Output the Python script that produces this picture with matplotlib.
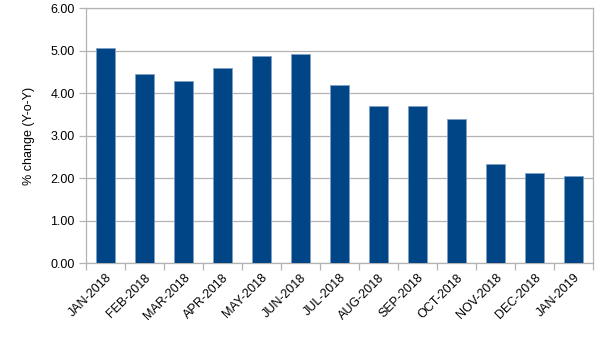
import matplotlib
matplotlib.use("Agg")
import matplotlib.pyplot as plt
import numpy as np

categories = ["JAN-2018", "FEB-2018", "MAR-2018", "APR-2018", "MAY-2018", "JUN-2018",
              "JUL-2018", "AUG-2018", "SEP-2018", "OCT-2018", "NOV-2018", "DEC-2018", "JAN-2019"]
values = [5.07, 4.46, 4.29, 4.59, 4.88, 4.93, 4.19, 3.71, 3.71, 3.40, 2.33, 2.12, 2.06]
yticks = [0, 1, 2, 3, 4, 5, 6]

plt.rcParams['font.family'] = ['Liberation Sans', 'DejaVu Sans']

fig = plt.figure(figsize=(6.05, 3.4), dpi=100)
ax = fig.add_axes([0.142, 0.2256, 0.838, 0.7504])

x = np.arange(len(categories))
ax.bar(x, values, width=0.5, color="#004586", edgecolor="#7f9fc4", linewidth=0.6, zorder=3)

grid_c = "#b3b3b3"
ax.set_xlim(-0.5, len(categories) - 0.5)
ax.set_ylim(0, 6)
ax.set_yticks(yticks)
ax.set_yticklabels([f"{v:.2f}" for v in yticks], fontsize=9)
ax.yaxis.grid(True, color=grid_c, linewidth=0.9, zorder=0)
ax.set_axisbelow(True)

ax.set_xticks(x)
ax.set_xticklabels(categories, rotation=45, ha="right", rotation_mode="anchor", fontsize=9)
ax.tick_params(axis="x", which="major", length=0, pad=6)
ax.set_xticks(np.arange(-0.5, len(categories), 1.0), minor=True)
ax.tick_params(axis="x", which="minor", length=5, color=grid_c, width=0.9)
ax.tick_params(axis="y", length=5, color=grid_c, width=0.9, pad=3)

for s in ax.spines.values():
    s.set_color(grid_c)
    s.set_linewidth(0.9)

ax.set_ylabel("% change (Y-o-Y)", fontsize=9, labelpad=11)

fig.savefig("out.png", dpi=100)
